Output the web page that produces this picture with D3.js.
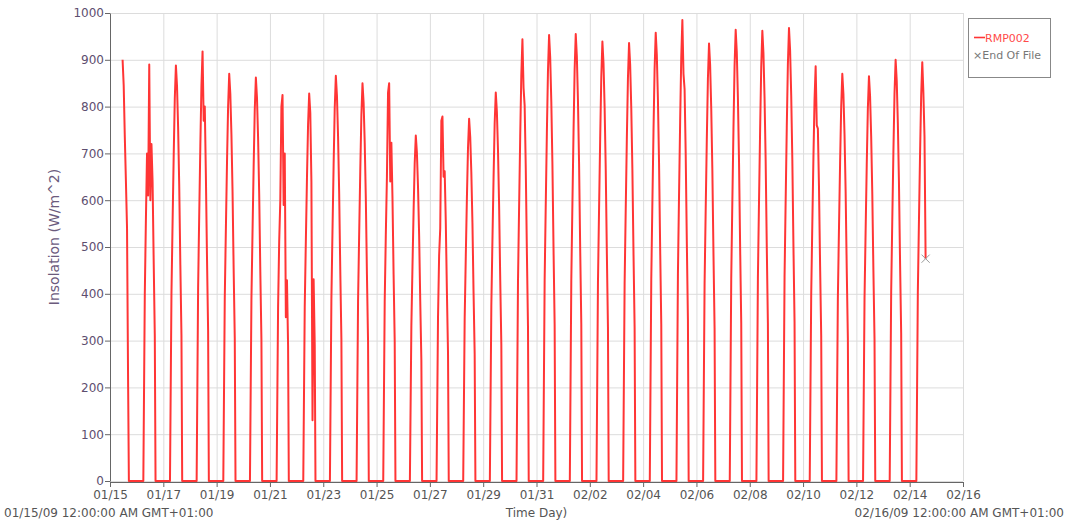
<!DOCTYPE html>
<html>
<head>
<meta charset="utf-8">
<script src="https://cdnjs.cloudflare.com/ajax/libs/d3/7.8.5/d3.min.js"></script>
<style>
    body { margin: 0; background: #fff; }
    svg text { font-family: "DejaVu Sans", Verdana, sans-serif; }
    .grid line { stroke: #dcdcdc; stroke-width: 1; }
    .grid .domain { display: none; }
    .axis .domain, .axis line { stroke: #666; }
</style>
</head>
<body>
<svg class="Insolation" width="1072" height="526"></svg>
<script>
// time range of the plot (labels show GMT+01:00)
const startDay = new Date(Date.UTC(2009, 0, 15));
const endDay = new Date(Date.UTC(2009, 1, 16));

const xTickDays = ["2009-01-15", "2009-01-17", "2009-01-19", "2009-01-21", "2009-01-23",
    "2009-01-25", "2009-01-27", "2009-01-29", "2009-01-31", "2009-02-02", "2009-02-04",
    "2009-02-06", "2009-02-08", "2009-02-10", "2009-02-12", "2009-02-14", "2009-02-16"];
const yTicks = [0, 100, 200, 300, 400, 500, 600, 700, 800, 900, 1000];

// time of day of each daylight reading; readings at night are 0
const readingTimes = ["07:20", "08:20", "09:20", "10:20", "11:20", "12:20", "13:20", "14:20", "15:20", "16:20"];
const nightTimes = ["06:00", "17:00"];

// insolation readings (W/m^2), one row per day from 01/15
const dailyReadings = [
    [null, null, null, null, 900, 845, 735, 640, 540, 200],
    [400, 560, 700, 610, 890, 600, 720, 640, 470, 310],
    [400, 551, 693, 817, 888, 844, 755, 630, 462, 311],
    [413, 569, 716, 845, 918, 770, 800, 652, 477, 321],
    [392, 539, 679, 800, 870, 827, 740, 618, 452, 305],
    [388, 534, 672, 793, 862, 819, 733, 612, 448, 302],
    [371, 512, 600, 800, 825, 590, 700, 350, 429, 289],
    [373, 513, 646, 762, 828, 787, 640, 130, 431, 290],
    [390, 537, 675, 797, 866, 823, 736, 615, 450, 303],
    [383, 527, 663, 782, 850, 808, 723, 604, 442, 298],
    [383, 527, 650, 830, 850, 640, 723, 604, 442, 298],
    [332, 458, 576, 679, 738, 701, 627, 524, 384, 258],
    [351, 483, 540, 770, 779, 650, 662, 553, 405, 273],
    [348, 480, 604, 712, 774, 735, 658, 550, 402, 271],
    [374, 515, 647, 764, 830, 789, 706, 589, 432, 291],
    [425, 585, 736, 868, 944, 840, 802, 670, 491, 330],
    [429, 591, 743, 877, 953, 905, 810, 677, 496, 334],
    [430, 592, 745, 879, 955, 907, 812, 678, 497, 334],
    [423, 582, 732, 864, 939, 892, 798, 667, 488, 329],
    [421, 580, 730, 861, 936, 889, 796, 665, 487, 328],
    [431, 594, 747, 881, 958, 910, 814, 680, 498, 335],
    [443, 611, 768, 906, 985, 870, 837, 699, 512, 345],
    [421, 580, 729, 860, 935, 888, 795, 664, 486, 327],
    [434, 598, 752, 887, 964, 916, 819, 684, 501, 337],
    [433, 596, 750, 885, 962, 914, 818, 683, 500, 337],
    [436, 600, 755, 891, 968, 920, 823, 687, 503, 339],
    [399, 549, 691, 815, 886, 760, 753, 629, 461, 310],
    [392, 539, 679, 800, 870, 827, 740, 618, 452, 305],
    [389, 536, 675, 796, 865, 822, 735, 614, 450, 303],
    [405, 558, 702, 828, 900, 855, 765, 639, 468, 315],
    [403, 555, 698, 823, 895, 830, 736, 475]
];

function atTime(day, hhmm)
{
    let parts = hhmm.split(":");
    return new Date(day.getTime() + (parseInt(parts[0]) * 60 + parseInt(parts[1])) * 60000);
}

function buildSeries()
{
    let points = [];
    dailyReadings.forEach(function(row, i){
        let day = d3.utcDay.offset(startDay, i);
        if(row[0] != null){
            points.push({ "time": atTime(day, nightTimes[0]), "value": 0 });
        }
        row.forEach(function(v, k){
            if(v != null){
                points.push({ "time": atTime(day, readingTimes[k]), "value": v });
            }
        });
        if(row.length == readingTimes.length){
            points.push({ "time": atTime(day, nightTimes[1]), "value": 0 });
        }
    });
    return points;
}

function render(data)
{
    const margin = { 'top' : 13, 'left' : 110 };
    const width = 853;
    const height = 468;
    const svg = d3.select('.Insolation');

    const xScale = d3.scaleUtc()
        .domain([startDay, endDay])
        .range([0, width]);

    const yScale = d3.scaleLinear()
        .domain([0, 1000])
        .range([height, 0]);

    const tickDates = xTickDays.map(s => new Date(s + "T00:00:00Z"));

    const chart = svg.append('g')
        .attr('transform', `translate(${margin.left}, ${margin.top})`);

    chart.append('g')
        .attr('class', 'grid')
        .call(d3.axisLeft(yScale).tickValues(yTicks).tickSize(-width).tickFormat(""));

    chart.append('g')
        .attr('class', 'grid')
        .attr('transform', `translate(0, ${height})`)
        .call(d3.axisBottom(xScale).tickValues(tickDates).tickSize(height).tickFormat(""))
        .selectAll('line')
        .attr('y2', -height);

    chart.append("path")
        .datum(data)
        .attr("fill", "none")
        .attr("stroke", "#ff3535")
        .attr("stroke-width", 2)
        .attr("stroke-linejoin", "round")
        .attr("d", d3.line()
            .x(d => xScale(d.time))
            .y(d => yScale(d.value))
        );

    const yAxis = chart.append('g')
        .attr('class', 'axis')
        .call(d3.axisLeft(yScale).tickValues(yTicks).tickSize(5).tickSizeOuter(0)
            .tickPadding(1).tickFormat(d3.format("d")));
    yAxis.selectAll('text')
        .attr('fill', '#5d4e6f')
        .style('font-size', '12px');

    const xAxis = chart.append('g')
        .attr('class', 'axis')
        .attr('transform', `translate(0, ${height + 1})`)
        .call(d3.axisBottom(xScale).tickValues(tickDates).tickSize(5).tickSizeOuter(0)
            .tickPadding(3).tickFormat(d3.utcFormat("%m/%d")));
    xAxis.selectAll('text')
        .attr('fill', '#555')
        .style('font-size', '12px');

    // end of file marker at the last reading
    const last = data[data.length - 1];
    chart.append('path')
        .attr('transform', `translate(${xScale(last.time)}, ${yScale(last.value)})`)
        .attr('d', d3.symbol().type(d3.symbolX).size(45)())
        .attr('fill', 'none')
        .attr('stroke', '#999')
        .attr('stroke-width', 1);

    svg.append('text')
        .attr('transform', `translate(59, ${margin.top + height / 2 - 10}) rotate(-90)`)
        .attr('text-anchor', 'middle')
        .attr('fill', '#6b5b7d')
        .style('font-size', '14px')
        .text("Insolation (W/m^2)");

    svg.append('text')
        .attr('x', margin.left + width / 2)
        .attr('y', 517)
        .attr('text-anchor', 'middle')
        .attr('fill', '#555')
        .style('font-size', '12px')
        .text("Time Day)");

    svg.append('text')
        .attr('x', 4)
        .attr('y', 517)
        .attr('fill', '#555')
        .style('font-size', '12px')
        .text("01/15/09 12:00:00 AM GMT+01:00");

    svg.append('text')
        .attr('x', 1064)
        .attr('y', 517)
        .attr('text-anchor', 'end')
        .attr('fill', '#555')
        .style('font-size', '12px')
        .text("02/16/09 12:00:00 AM GMT+01:00");

    // legend
    const legend = svg.append('g');
    legend.append('rect')
        .attr('x', 968.5)
        .attr('y', 18.5)
        .attr('width', 82)
        .attr('height', 59)
        .attr('fill', '#fff')
        .attr('stroke', '#888');
    legend.append('line')
        .attr('x1', 974).attr('x2', 985)
        .attr('y1', 37.5).attr('y2', 37.5)
        .attr('stroke', '#ff3535')
        .attr('stroke-width', 1.6);
    legend.append('text')
        .attr('x', 985)
        .attr('y', 41.5)
        .attr('fill', '#ff4a4a')
        .style('font-size', '11px')
        .text("RMP002");
    legend.append('text')
        .attr('x', 973)
        .attr('y', 59)
        .attr('fill', '#777')
        .style('font-size', '11px')
        .text("\u00d7End Of File");
}

render(buildSeries());
</script>
</body>
</html>
